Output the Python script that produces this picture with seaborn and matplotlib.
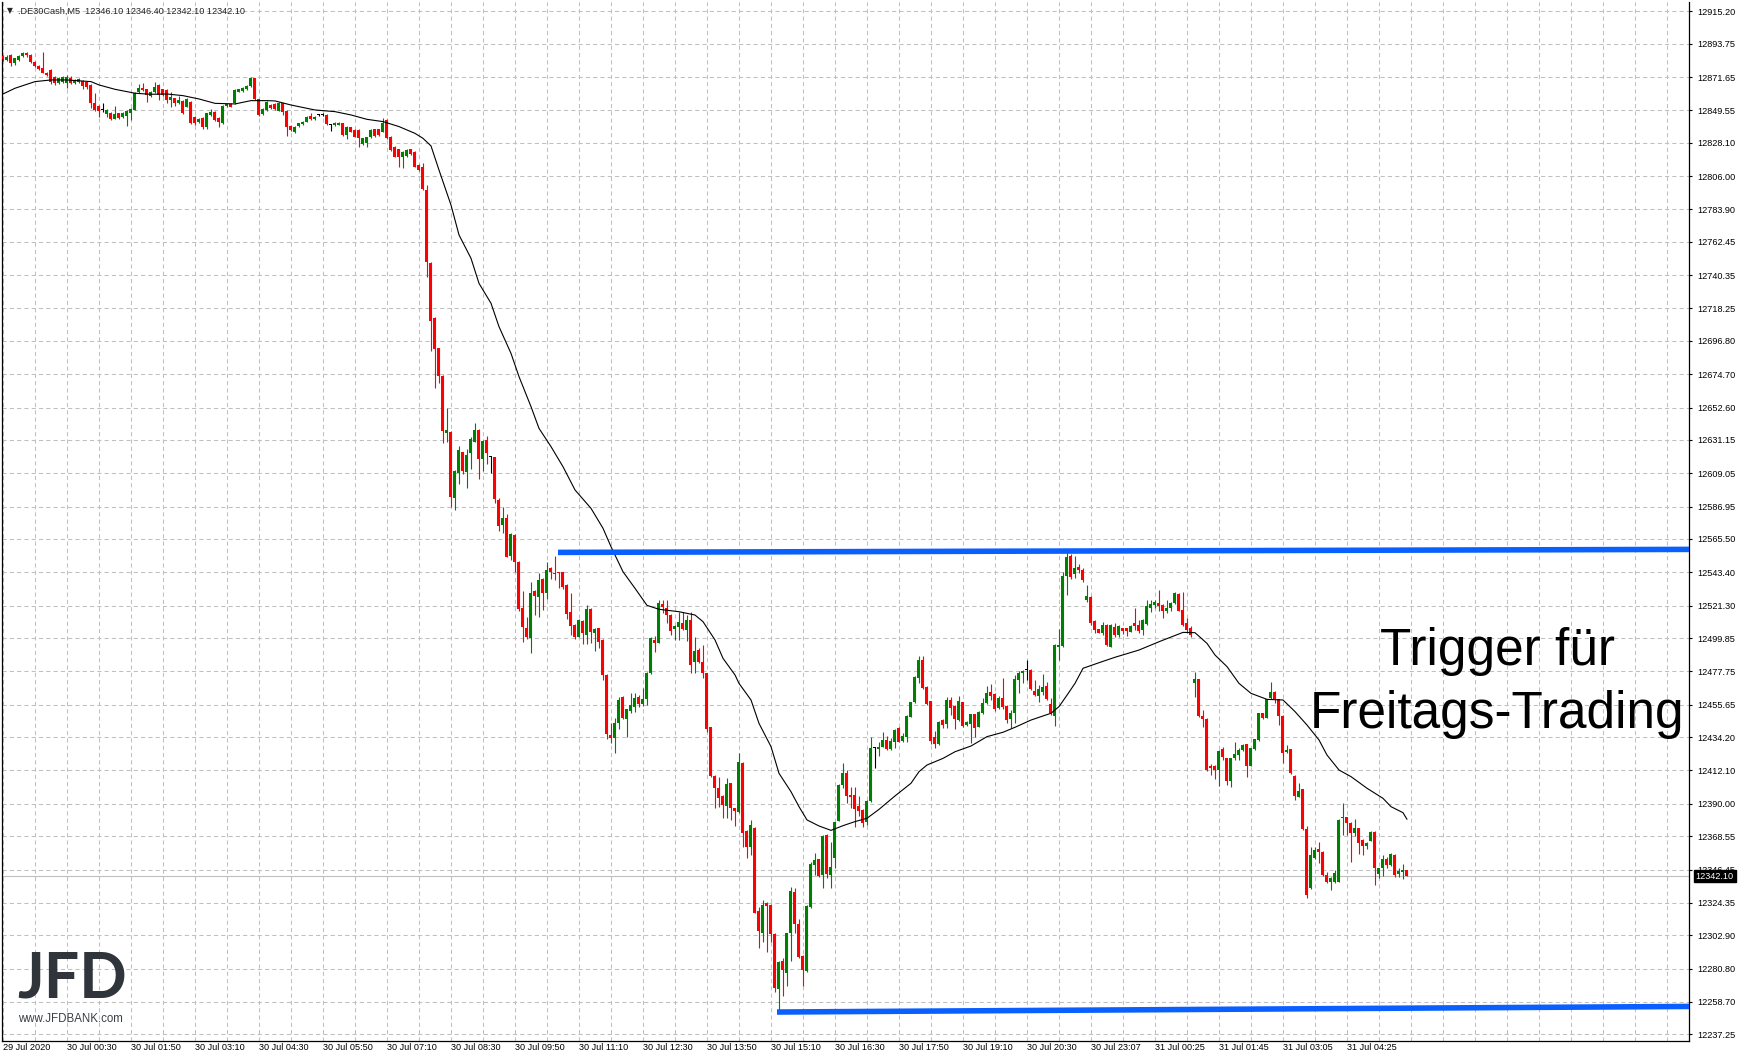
import numpy as np
import pandas as pd
import seaborn as sns
import matplotlib.pyplot as plt

# .DE30Cash M5 candles, one entry per bar (bar 0 = 29 Jul 23:10)
opens = [
    12885.6, 12882.9, 12886.2, 12880.7, 12882.9, 12885.6, 12887.4, 12886.3, 12881.8, 12879.0,
    12877.4, 12874.5, 12876.3, 12871.4, 12867.9, 12868.4, 12867.9, 12871.2, 12867.5, 12868.6,
    12869.0, 12868.6, 12866.4, 12854.2, 12852.4, 12849.8, 12847.1, 12848.0, 12844.1, 12847.6,
    12845.0, 12845.8, 12847.6, 12849.8, 12861.5, 12864.2, 12863.5, 12859.1, 12861.5, 12866.4,
    12863.5, 12863.1, 12856.4, 12857.5, 12854.2, 12856.0, 12852.0, 12855.3, 12845.4, 12842.1,
    12844.3, 12838.3, 12846.5, 12848.5, 12844.3, 12841.4, 12852.4, 12853.8, 12854.2, 12862.0,
    12862.6, 12863.5, 12865.7, 12870.8, 12856.9, 12847.1, 12849.8, 12853.1, 12853.8, 12849.4,
    12854.2, 12849.4, 12839.2, 12835.2, 12839.2, 12840.5, 12842.1, 12845.8, 12843.6, 12846.5,
    12846.5, 12846.5, 12839.9, 12839.9, 12840.1, 12841.0, 12833.2, 12838.3, 12836.5, 12836.5,
    12827.3, 12827.7, 12831.7, 12837.0, 12837.0, 12835.4, 12843.2, 12832.1, 12825.5, 12823.7,
    12818.9, 12819.3, 12823.7, 12822.2, 12813.4, 12812.2, 12796.8, 12748.6, 12712.2, 12691.8,
    12673.5, 12636.0, 12636.6, 12592.9, 12609.0, 12622.9, 12610.1, 12622.7, 12630.0, 12637.7,
    12618.3, 12631.1, 12619.6, 12619.6, 12591.3, 12574.8, 12579.2, 12554.2, 12568.1, 12550.5,
    12519.5, 12506.7, 12500.1, 12531.0, 12527.3, 12539.0, 12529.5, 12546.5, 12543.2, 12543.4,
    12543.4, 12535.0, 12516.9, 12508.5, 12500.8, 12511.1, 12501.9, 12519.1, 12503.0, 12506.3,
    12498.6, 12475.4, 12435.6, 12433.8, 12443.8, 12461.0, 12446.0, 12451.7, 12454.4, 12461.0,
    12456.1, 12459.2, 12476.5, 12498.6, 12496.8, 12522.2, 12520.0, 12515.1, 12505.6, 12507.4,
    12509.6, 12505.2, 12511.8, 12484.2, 12491.9, 12483.8, 12476.5, 12440.7, 12408.4, 12400.7,
    12395.2, 12388.5, 12403.6, 12387.0, 12384.8, 12417.3, 12372.0, 12361.1, 12374.2, 12318.9,
    12304.6, 12324.5, 12322.9, 12303.7, 12267.0, 12285.8, 12277.7, 12304.6, 12331.8, 12310.3,
    12289.1, 12279.4, 12321.4, 12349.4, 12353.2, 12342.8, 12369.3, 12342.8, 12353.9, 12378.8,
    12402.5, 12410.2, 12395.8, 12395.6, 12388.5, 12385.9, 12378.2, 12391.9, 12426.8, 12426.1,
    12427.9, 12432.3, 12426.1, 12431.2, 12440.0, 12431.6, 12434.5, 12447.7, 12457.2, 12473.6,
    12485.3, 12467.4, 12457.9, 12434.5, 12429.6, 12445.5, 12442.6, 12458.8, 12455.0, 12445.3,
    12457.2, 12442.2, 12442.6, 12449.3, 12441.1, 12450.0, 12456.6, 12463.9, 12462.7, 12453.3,
    12459.9, 12455.0, 12446.2, 12450.0, 12472.1, 12476.9, 12478.7, 12478.7, 12464.7, 12461.4,
    12464.3, 12468.3, 12456.1, 12448.4, 12493.7, 12494.6, 12541.0, 12554.2, 12542.1, 12547.2,
    12544.9, 12525.1, 12527.3, 12511.4, 12505.6, 12503.4, 12508.5, 12494.1, 12506.9, 12501.8,
    12506.3, 12506.3, 12504.1, 12509.6, 12508.5, 12505.2, 12508.9, 12519.5, 12521.7, 12523.3,
    12521.7, 12518.0, 12519.5, 12522.8, 12529.0, 12518.4, 12509.6, 12506.3, 12470.3, 12472.5,
    12448.2, 12446.2, 12415.3, 12415.0, 12412.4, 12426.1, 12420.1, 12405.3, 12420.1, 12422.3,
    12425.6, 12429.4, 12415.3, 12426.1, 12432.3, 12449.9, 12447.1, 12459.9, 12464.3, 12459.2,
    12448.2, 12424.5, 12426.1, 12408.4, 12394.7, 12399.6, 12373.1, 12334.0, 12353.9, 12359.8,
    12358.3, 12342.8, 12338.4, 12338.4, 12338.4, 12380.4, 12381.0, 12377.5, 12370.9, 12373.7,
    12366.0, 12362.0, 12365.6, 12371.5, 12343.2, 12347.2, 12353.2, 12349.4, 12356.1, 12343.2,
    12345.0, 12346.1,
]
highs = [
    12886.5, 12886.0, 12887.0, 12884.5, 12886.5, 12888.5, 12888.0, 12886.8, 12882.0, 12879.5,
    12888.5, 12875.0, 12877.0, 12872.5, 12871.5, 12872.0, 12873.0, 12872.0, 12870.5, 12870.8,
    12869.5, 12869.0, 12867.0, 12861.3, 12853.0, 12854.2, 12850.5, 12848.5, 12852.4, 12848.0,
    12848.5, 12850.0, 12851.0, 12861.5, 12867.0, 12867.5, 12864.0, 12862.5, 12868.6, 12867.0,
    12864.0, 12863.5, 12862.0, 12858.0, 12859.1, 12856.5, 12857.5, 12856.0, 12846.0, 12844.6,
    12845.0, 12848.0, 12850.2, 12849.0, 12845.0, 12853.0, 12854.5, 12854.3, 12863.5, 12864.0,
    12864.8, 12866.3, 12871.5, 12871.2, 12857.3, 12850.8, 12856.0, 12853.6, 12854.3, 12855.3,
    12854.7, 12849.8, 12839.7, 12839.3, 12841.5, 12842.6, 12845.5, 12847.6, 12845.5, 12847.2,
    12847.6, 12847.0, 12840.3, 12842.0, 12842.0, 12841.5, 12839.3, 12838.8, 12837.0, 12837.0,
    12831.5, 12832.2, 12837.0, 12837.5, 12837.5, 12844.3, 12843.7, 12832.6, 12826.0, 12824.2,
    12822.7, 12823.8, 12824.2, 12822.7, 12813.9, 12814.5, 12800.1, 12749.1, 12712.7, 12692.3,
    12674.0, 12652.1, 12637.1, 12611.3, 12627.1, 12623.4, 12624.9, 12632.9, 12642.1, 12638.2,
    12630.9, 12633.8, 12620.5, 12620.1, 12592.9, 12586.9, 12582.0, 12569.3, 12568.6, 12551.0,
    12531.0, 12513.6, 12537.2, 12531.5, 12543.2, 12539.5, 12550.5, 12547.0, 12554.2, 12543.9,
    12543.9, 12535.5, 12529.5, 12509.0, 12512.3, 12511.6, 12521.7, 12519.6, 12506.3, 12506.8,
    12499.1, 12475.9, 12443.8, 12446.6, 12461.0, 12461.5, 12453.1, 12463.2, 12463.2, 12462.1,
    12466.5, 12477.4, 12500.8, 12501.2, 12525.1, 12525.1, 12525.1, 12515.6, 12508.3, 12517.3,
    12517.3, 12515.1, 12517.3, 12500.8, 12493.0, 12495.2, 12477.0, 12441.2, 12408.9, 12407.5,
    12395.7, 12406.9, 12404.1, 12387.5, 12423.4, 12417.8, 12372.5, 12379.3, 12374.7, 12321.8,
    12326.2, 12325.0, 12323.4, 12304.2, 12285.9, 12287.6, 12304.6, 12335.1, 12334.0, 12313.4,
    12289.6, 12323.0, 12351.6, 12357.2, 12353.7, 12369.3, 12369.8, 12364.9, 12378.2, 12403.0,
    12417.3, 12412.4, 12401.3, 12401.3, 12395.2, 12386.4, 12392.4, 12434.1, 12427.9, 12431.2,
    12437.8, 12435.1, 12433.4, 12439.4, 12441.1, 12437.1, 12448.7, 12457.7, 12474.7, 12488.2,
    12488.0, 12467.9, 12458.4, 12438.2, 12444.7, 12446.0, 12461.0, 12461.0, 12455.5, 12461.4,
    12457.7, 12444.9, 12449.8, 12449.8, 12451.5, 12459.9, 12468.3, 12469.4, 12463.2, 12461.4,
    12473.6, 12455.5, 12452.1, 12475.4, 12478.2, 12478.7, 12485.3, 12479.2, 12472.0, 12468.7,
    12476.0, 12470.9, 12459.9, 12495.7, 12505.6, 12543.8, 12557.1, 12555.8, 12554.2, 12548.9,
    12546.0, 12535.0, 12527.8, 12511.9, 12506.1, 12510.7, 12509.0, 12509.0, 12509.6, 12508.3,
    12506.8, 12506.8, 12508.3, 12519.5, 12511.8, 12512.3, 12525.1, 12525.1, 12525.1, 12531.7,
    12522.2, 12525.1, 12524.0, 12530.6, 12529.5, 12530.6, 12512.9, 12507.8, 12477.6, 12473.0,
    12452.1, 12446.7, 12416.2, 12415.5, 12425.7, 12427.9, 12420.6, 12420.6, 12431.2, 12426.8,
    12429.4, 12429.9, 12427.3, 12433.2, 12450.4, 12450.4, 12459.7, 12470.9, 12464.8, 12459.7,
    12448.7, 12428.9, 12426.6, 12408.9, 12404.0, 12400.1, 12375.3, 12361.6, 12361.6, 12364.9,
    12358.8, 12345.0, 12341.6, 12346.1, 12379.8, 12390.7, 12381.5, 12378.0, 12379.7, 12374.2,
    12366.5, 12364.7, 12371.8, 12372.0, 12347.7, 12356.1, 12355.0, 12357.2, 12356.6, 12347.2,
    12350.1, 12346.4,
]
lows = [
    12882.5, 12882.0, 12879.0, 12879.6, 12882.5, 12885.0, 12885.1, 12881.0, 12878.5, 12876.5,
    12874.0, 12872.3, 12867.0, 12866.5, 12867.0, 12867.5, 12864.2, 12867.0, 12867.0, 12868.0,
    12863.5, 12864.0, 12850.9, 12849.0, 12845.0, 12848.7, 12845.0, 12843.0, 12843.6, 12843.8,
    12844.5, 12839.2, 12843.2, 12849.5, 12861.0, 12862.5, 12855.3, 12858.5, 12861.0, 12856.4,
    12859.0, 12854.2, 12852.0, 12852.5, 12853.5, 12847.0, 12851.5, 12840.5, 12840.0, 12841.5,
    12837.0, 12837.5, 12846.0, 12842.5, 12838.8, 12840.5, 12852.0, 12851.5, 12853.5, 12861.5,
    12862.0, 12863.0, 12865.0, 12856.4, 12846.0, 12846.5, 12849.3, 12850.4, 12849.7, 12849.0,
    12846.5, 12832.6, 12836.0, 12834.3, 12838.7, 12840.0, 12841.6, 12843.1, 12843.1, 12846.0,
    12846.0, 12840.0, 12836.1, 12839.4, 12839.6, 12832.7, 12830.4, 12835.0, 12831.6, 12825.5,
    12826.8, 12825.5, 12831.2, 12832.1, 12832.5, 12835.0, 12830.5, 12822.8, 12818.4, 12812.3,
    12811.2, 12818.8, 12820.1, 12811.8, 12809.5, 12796.8, 12739.4, 12690.3, 12665.3, 12669.1,
    12629.3, 12630.0, 12586.9, 12584.7, 12601.7, 12608.4, 12599.0, 12611.7, 12629.5, 12605.0,
    12610.8, 12615.0, 12609.0, 12589.6, 12571.0, 12569.7, 12553.3, 12551.6, 12543.8, 12518.0,
    12497.4, 12499.0, 12490.2, 12515.1, 12513.6, 12518.4, 12525.5, 12538.8, 12538.3, 12533.2,
    12532.4, 12512.2, 12501.9, 12499.0, 12500.3, 12495.9, 12495.7, 12496.8, 12491.5, 12493.0,
    12472.0, 12432.7, 12430.1, 12423.4, 12439.4, 12446.1, 12434.5, 12450.4, 12450.6, 12454.4,
    12454.8, 12455.5, 12476.0, 12490.4, 12496.3, 12516.6, 12510.0, 12501.9, 12498.6, 12498.6,
    12505.1, 12497.9, 12476.5, 12476.5, 12483.1, 12473.2, 12437.8, 12407.5, 12387.0, 12388.1,
    12380.4, 12380.4, 12379.3, 12375.3, 12383.7, 12361.6, 12353.9, 12356.1, 12317.3, 12294.2,
    12298.6, 12292.0, 12298.6, 12265.5, 12252.2, 12262.6, 12269.3, 12286.0, 12304.1, 12287.7,
    12269.3, 12278.5, 12320.9, 12342.8, 12341.3, 12333.9, 12340.6, 12333.9, 12347.2, 12378.3,
    12400.3, 12390.3, 12387.0, 12374.8, 12381.9, 12374.8, 12375.9, 12391.4, 12414.0, 12421.7,
    12427.4, 12425.6, 12425.6, 12426.8, 12430.7, 12431.1, 12431.2, 12447.2, 12456.7, 12470.3,
    12466.0, 12455.4, 12429.4, 12427.2, 12429.1, 12440.5, 12440.5, 12448.8, 12439.6, 12444.8,
    12441.1, 12441.7, 12430.5, 12434.5, 12440.6, 12449.5, 12456.1, 12458.8, 12451.7, 12452.8,
    12452.6, 12443.8, 12440.0, 12443.3, 12463.6, 12470.3, 12472.0, 12465.6, 12461.6, 12457.2,
    12462.1, 12459.0, 12448.8, 12441.8, 12485.3, 12494.1, 12528.4, 12538.8, 12539.9, 12542.7,
    12537.2, 12524.0, 12508.5, 12503.4, 12502.9, 12501.8, 12494.6, 12493.6, 12500.7, 12500.7,
    12502.5, 12501.4, 12503.6, 12505.2, 12503.0, 12501.8, 12508.4, 12517.3, 12519.5, 12517.8,
    12513.3, 12516.7, 12517.8, 12522.3, 12517.5, 12508.0, 12503.4, 12500.3, 12461.0, 12447.7,
    12441.1, 12411.9, 12409.1, 12406.2, 12402.0, 12419.0, 12402.4, 12400.9, 12419.0, 12419.0,
    12425.1, 12408.0, 12414.8, 12425.6, 12431.8, 12446.1, 12446.6, 12459.4, 12457.0, 12442.2,
    12417.2, 12423.4, 12409.7, 12392.5, 12394.2, 12372.6, 12327.3, 12333.5, 12353.4, 12351.0,
    12342.3, 12337.7, 12332.9, 12337.3, 12337.9, 12369.3, 12369.3, 12351.6, 12368.6, 12356.7,
    12356.1, 12359.8, 12365.1, 12336.2, 12340.6, 12342.2, 12347.2, 12348.9, 12341.3, 12341.7,
    12340.0, 12342.1,
]
closes = [
    12883.4, 12885.1, 12881.2, 12884.0, 12885.6, 12887.4, 12886.3, 12881.4, 12879.0, 12877.0,
    12874.5, 12872.8, 12868.6, 12867.9, 12870.8, 12871.4, 12871.4, 12867.9, 12869.7, 12870.1,
    12865.7, 12864.8, 12854.2, 12849.8, 12849.4, 12849.8, 12849.8, 12843.6, 12847.1, 12844.3,
    12848.0, 12849.4, 12850.2, 12860.9, 12864.2, 12863.1, 12859.7, 12862.0, 12865.3, 12859.7,
    12859.7, 12856.4, 12858.2, 12854.2, 12856.4, 12847.6, 12856.9, 12841.0, 12841.0, 12844.1,
    12838.8, 12847.6, 12848.7, 12843.2, 12842.1, 12852.4, 12853.8, 12852.0, 12863.1, 12863.5,
    12864.2, 12865.7, 12870.8, 12856.9, 12846.5, 12850.2, 12855.3, 12850.9, 12850.2, 12854.7,
    12848.7, 12838.8, 12836.5, 12838.8, 12841.0, 12842.1, 12845.0, 12843.6, 12845.0, 12846.5,
    12846.5, 12840.5, 12839.9, 12841.4, 12841.4, 12833.2, 12838.8, 12835.4, 12832.1, 12831.0,
    12831.0, 12831.7, 12836.5, 12832.6, 12833.0, 12841.0, 12831.0, 12823.3, 12818.9, 12818.9,
    12822.2, 12823.3, 12820.6, 12812.3, 12810.0, 12797.2, 12749.3, 12710.2, 12691.4, 12673.5,
    12637.3, 12637.7, 12593.6, 12610.8, 12624.5, 12610.8, 12621.2, 12631.8, 12637.7, 12618.3,
    12630.4, 12622.3, 12619.6, 12591.8, 12574.1, 12579.6, 12553.8, 12568.8, 12550.5, 12518.9,
    12507.4, 12500.3, 12529.9, 12527.7, 12538.3, 12529.5, 12544.9, 12543.8, 12542.5, 12542.7,
    12533.9, 12515.6, 12508.0, 12500.8, 12511.8, 12503.0, 12519.1, 12503.6, 12505.8, 12497.4,
    12475.4, 12436.0, 12433.4, 12443.8, 12458.8, 12446.6, 12452.6, 12455.5, 12459.9, 12455.9,
    12459.5, 12476.9, 12499.7, 12496.8, 12523.0, 12520.6, 12515.1, 12504.7, 12507.8, 12510.5,
    12505.6, 12511.8, 12482.0, 12491.3, 12484.2, 12476.5, 12439.3, 12408.4, 12400.7, 12394.1,
    12389.2, 12403.1, 12387.0, 12385.2, 12417.9, 12370.9, 12361.1, 12375.9, 12317.8, 12305.9,
    12322.9, 12322.5, 12303.7, 12267.7, 12285.4, 12279.9, 12304.1, 12332.2, 12310.3, 12288.2,
    12279.9, 12322.3, 12350.1, 12352.8, 12342.2, 12368.6, 12343.5, 12348.3, 12377.7, 12402.5,
    12410.2, 12395.2, 12394.7, 12386.8, 12385.2, 12377.5, 12391.9, 12426.8, 12426.8, 12427.9,
    12432.3, 12426.1, 12431.4, 12438.9, 12431.2, 12434.9, 12448.2, 12457.2, 12474.2, 12485.3,
    12466.5, 12455.9, 12431.6, 12429.4, 12444.2, 12442.2, 12458.8, 12453.7, 12446.0, 12458.1,
    12441.6, 12444.4, 12449.3, 12440.5, 12451.0, 12457.0, 12463.2, 12461.4, 12452.6, 12459.9,
    12454.4, 12445.5, 12450.4, 12472.5, 12476.9, 12478.0, 12478.7, 12466.1, 12462.1, 12465.8,
    12467.6, 12459.5, 12450.4, 12495.2, 12495.2, 12541.0, 12553.8, 12540.5, 12546.0, 12544.9,
    12538.3, 12527.7, 12510.0, 12505.2, 12503.4, 12508.5, 12495.2, 12508.5, 12501.8, 12507.8,
    12504.7, 12504.7, 12507.8, 12507.8, 12504.7, 12511.8, 12521.1, 12522.4, 12524.0, 12521.1,
    12518.0, 12519.5, 12522.8, 12529.5, 12518.0, 12508.5, 12505.2, 12501.8, 12472.5, 12448.2,
    12446.0, 12412.4, 12413.9, 12412.4, 12425.2, 12420.8, 12405.3, 12420.1, 12422.8, 12425.6,
    12428.9, 12415.3, 12426.8, 12432.7, 12449.9, 12446.6, 12459.2, 12464.3, 12459.2, 12448.2,
    12423.4, 12425.6, 12410.2, 12395.2, 12398.7, 12373.1, 12329.6, 12356.1, 12359.4, 12358.3,
    12342.8, 12338.4, 12341.1, 12344.4, 12379.3, 12381.5, 12377.1, 12370.9, 12373.7, 12364.2,
    12362.0, 12364.2, 12371.3, 12347.2, 12347.2, 12353.2, 12349.4, 12356.7, 12342.8, 12345.7,
    12346.1, 12342.1,
]

# moving average line, sampled along the black curve
ma_bar = [0, 3, 8, 12, 16, 22, 24, 28, 33, 37, 41, 45, 49, 53, 58, 62, 66, 68, 72, 78,
          83, 87, 91, 95, 99, 103, 105, 107, 109, 112, 114, 117, 119, 122, 124, 127, 129,
          132, 134, 137, 140, 143, 147, 150, 152, 155, 158, 161, 164, 169, 173, 175, 178,
          180, 183, 184, 187, 189, 192, 194, 197, 199, 201, 204, 207, 210, 213, 216, 219,
          223, 227, 229, 231, 235, 238, 242, 246, 250, 253, 257, 262, 264, 266, 268, 270,
          274, 278, 284, 289, 295, 298, 301, 303, 306, 309, 312, 316, 320, 323, 326, 329,
          331, 334, 337, 341, 345, 347, 350, 351]
ma_value = [12860.4, 12864.2, 12868.6, 12869.7, 12869.7, 12868.6, 12866.4, 12863.5, 12860.9,
            12860.2, 12860.4, 12859.3, 12857.1, 12854.2, 12853.8, 12856.0, 12856.0, 12855.8,
            12853.1, 12849.8, 12848.7, 12846.5, 12843.6, 12842.1, 12838.8, 12834.3, 12831.0,
            12826.0, 12810.0, 12786.8, 12767.0, 12751.5, 12734.9, 12721.7, 12706.2, 12688.5,
            12673.1, 12653.2, 12638.8, 12626.7, 12613.4, 12598.0, 12585.8, 12572.6, 12560.4,
            12543.8, 12532.8, 12521.5, 12518.9, 12517.3, 12515.1, 12510.7, 12498.6, 12486.4,
            12475.4, 12469.8, 12458.8, 12443.3, 12427.9, 12410.2, 12398.0, 12388.1, 12379.3,
            12375.3, 12372.4, 12375.5, 12378.2, 12380.4, 12386.3, 12395.2, 12403.6, 12411.3,
            12415.7, 12420.1, 12424.5, 12428.3, 12434.5, 12437.4, 12440.7, 12445.5, 12450.0,
            12454.4, 12462.0, 12469.8, 12479.8, 12483.5, 12487.1, 12491.9, 12497.4, 12503.6,
            12503.4, 12496.3, 12488.6, 12480.9, 12469.8, 12463.2, 12459.2, 12458.8, 12451.1,
            12442.2, 12432.3, 12422.3, 12412.4, 12408.0, 12400.3, 12393.6, 12388.1, 12384.1,
            12379.7]

price_ticks = [12915.20, 12893.75, 12871.65, 12849.55, 12828.10, 12806.00, 12783.90,
               12762.45, 12740.35, 12718.25, 12696.80, 12674.70, 12652.60, 12631.15,
               12609.05, 12586.95, 12565.50, 12543.40, 12521.30, 12499.85, 12477.75,
               12455.65, 12434.20, 12412.10, 12390.00, 12368.55, 12346.45, 12324.35,
               12302.90, 12280.80, 12258.70, 12237.25]
time_labels = ["29 Jul 2020", "30 Jul 00:30", "30 Jul 01:50", "30 Jul 03:10", "30 Jul 04:30",
               "30 Jul 05:50", "30 Jul 07:10", "30 Jul 08:30", "30 Jul 09:50", "30 Jul 11:10",
               "30 Jul 12:30", "30 Jul 13:50", "30 Jul 15:10", "30 Jul 16:30", "30 Jul 17:50",
               "30 Jul 19:10", "30 Jul 20:30", "30 Jul 23:07", "31 Jul 00:25", "31 Jul 01:45",
               "31 Jul 03:05", "31 Jul 04:25"]

# hand drawn levels (blue lines)
resist_bar = [138.75, 421.5]
resist_price = [12556.6, 12558.6]
support_bar = [193.5, 421.5]
support_price = [12252.0, 12255.7]

last_price = 12342.10
header = ".DE30Cash,M5  12346.10 12346.40 12342.10 12342.10"

sns.set_style("white")
plt.rcParams['font.family'] = ['Liberation Sans', 'DejaVu Sans']

df = pd.DataFrame({'open': opens, 'high': highs, 'low': lows, 'close': closes})
df['bar'] = np.arange(len(df))
df['color'] = np.where(df.close > df.open, '#008000',
                       np.where(df.close < df.open, '#FF0000', '#000000'))
df['body_low'] = df[['open', 'close']].min(axis=1)
df['body_h'] = (df.close - df.open).abs().clip(lower=0.7)

W, H = 1740, 1058
fig = plt.figure(figsize=(W / 100, H / 100), dpi=100)
ax = fig.add_axes([2 / W, 17 / H, 1687 / W, 1039 / H])
ax.set_axisbelow(True)

# candles
ax.vlines(df.bar, df.low, df.high, colors=df.color.tolist(), lw=0.8, zorder=3)
ax.bar(df.bar, df.body_h, bottom=df.body_low, width=0.75,
       color=df.color.tolist(), linewidth=0, zorder=4)

# moving average
sns.lineplot(x=ma_bar, y=ma_value, ax=ax, color='black', lw=0.8, zorder=5)

# bid line
ax.axhline(last_price, color='#C0C0C0', lw=0.8, zorder=1)

# blue trigger lines
ax.plot(resist_bar, resist_price, color='#0A5FFF', lw=4, solid_capstyle='butt', zorder=6)
ax.plot(support_bar, support_price, color='#0A5FFF', lw=4, solid_capstyle='butt', zorder=6)

ax.set_xlim(-0.25, 421.5)
ax.set_ylim(12232.8, 12921.36)
ax.set_xlabel('')
ax.set_ylabel('')

ax.set_xticks(np.arange(0, 16 * len(time_labels), 16))
ax.set_xticklabels(time_labels)
ax.set_xticks(np.arange(8, 421, 8), minor=True)
for lbl in ax.get_xticklabels():
    lbl.set_horizontalalignment('left')
ax.yaxis.tick_right()
ax.set_yticks(price_ticks)
ax.set_yticklabels(["%.2f" % p for p in price_ticks])

grid_kw = dict(color='#C0C0C0', lw=0.75, ls=(0, (4, 3)))
ax.grid(True, which='both', axis='x', **grid_kw)
ax.grid(True, which='major', axis='y', **grid_kw)

ax.tick_params(axis='x', which='major', direction='out', length=3, width=0.8,
               pad=-1.5, labelsize=6.6, colors='black')
ax.tick_params(axis='x', which='minor', length=0)
ax.tick_params(axis='y', which='major', direction='out', length=2.5, width=0.8,
               pad=3.3, labelsize=6.6, colors='black')

for side in ['left', 'right', 'bottom']:
    ax.spines[side].set_color('black')
    ax.spines[side].set_linewidth(0.9)
ax.spines['top'].set_visible(False)

# current price tag on the price scale
ax.text(1.004, last_price, "%.2f" % last_price, transform=ax.get_yaxis_transform(),
        color='white', fontsize=6.6, va='center', ha='left', zorder=10, clip_on=False,
        bbox=dict(boxstyle='square,pad=0.2', fc='black', ec='black'))

# header line
fig.text(7 / W, 1 - 11 / H, "\u25BC", fontsize=5.5, family='DejaVu Sans',
         va='center', ha='left')
fig.text(18 / W, 1 - 11 / H, header, fontsize=6.6, va='center', ha='left')

# annotation
fig.text(1497.5 / W, 1 - 665 / H, "Trigger für", fontsize=37, ha='center',
         va='baseline', color='black')
fig.text(1497.5 / W, 1 - 728 / H, "Freitags-Trading", fontsize=37, ha='center',
         va='baseline', color='black')

# broker logo
fig.text(17 / W, 1 - 997 / H, "JFD", fontsize=45, fontweight='bold', family='Lato',
         color='#2F353B', va='baseline', ha='left')
fig.text(18 / W, 1 - 1022 / H, "www.JFDBANK.com", fontsize=8.3, color='#3A4046',
         va='baseline', ha='left')

fig.savefig("out.png", dpi=100)
